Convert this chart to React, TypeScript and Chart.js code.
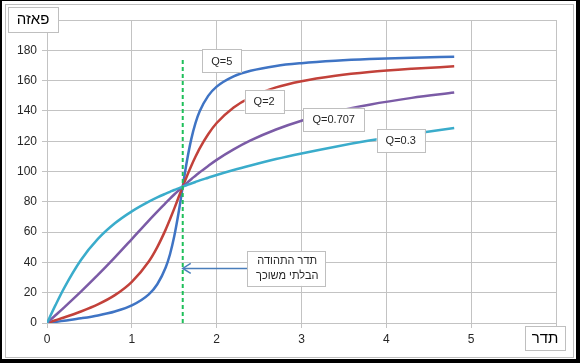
import { useEffect, useRef } from 'react';
import { Chart, registerables } from 'chart.js';

Chart.register(...registerables);

// Frequency samples (x axis, "תדר")
const frequency = [0, 0.1, 0.2, 0.4, 0.6, 0.8, 1.0, 1.2, 1.3, 1.4, 1.45, 1.5, 1.55, 1.6, 1.65, 1.7, 1.75, 1.8, 1.9, 2.0, 2.2, 2.4, 2.7, 3.0, 3.4, 3.8, 4.3, 4.8];

// Phase (degrees) read for each Q
const phaseQ5 = [0, 0.7, 1.5, 3.1, 5.0, 7.6, 11.6, 18.9, 25.6, 36.8, 45.4, 57.2, 72.4, 90, 107.1, 121.2, 131.9, 139.7, 149.9, 156.0, 162.8, 166.5, 169.7, 171.5, 173.1, 174.2, 175.1, 175.7];
const phaseQ2 = [0, 1.8, 3.6, 7.6, 12.3, 18.4, 27.2, 40.6, 50.1, 61.8, 68.5, 75.5, 82.8, 90, 97.0, 103.6, 109.7, 115.3, 124.6, 132.0, 142.3, 149.0, 155.5, 159.6, 163.2, 165.7, 167.8, 169.4];
const phaseQ0707 = [0, 5.1, 10.2, 20.7, 31.7, 43.3, 55.4, 67.6, 73.5, 79.3, 82.1, 84.8, 87.4, 90, 92.5, 94.9, 97.2, 99.5, 103.7, 107.7, 114.6, 120.5, 127.7, 133.5, 139.5, 144.1, 148.6, 152.1];
const phaseQ03 = [0, 11.8, 22.9, 41.6, 55.5, 65.8, 73.7, 80.1, 82.9, 85.4, 86.6, 87.8, 88.9, 90, 91.1, 92.1, 93.1, 94.1, 95.9, 97.7, 101.0, 104.0, 108.2, 111.9, 116.4, 120.4, 124.8, 128.7];

// Undamped resonance marker
const resonanceFreq = 1.6;
const resonanceLineTop = 174;

// Axis ticks
const xTicks = [0, 1, 2, 3, 4, 5, 6];
const yTicks = [0, 20, 40, 60, 80, 100, 120, 140, 160, 180, 200];

// Series labels (boxes) and their anchor (data coordinates)
const seriesLabels = ['Q=5', 'Q=2', 'Q=0.707', 'Q=0.3'];
const seriesLabelX = [2.06, 2.56, 3.38, 4.17];
const seriesLabelY = [173, 146.5, 134.5, 120.5];

// Annotation
const annotationLines = ['תדר התהודה', 'הבלתי משוכך'];
const annotationBoxX = [2.36, 3.28];
const annotationBoxY = [47.5, 24.5];
const annotationArrowTip = [1.6, 36];

const yTitle = 'פאזה';
const xTitle = 'תדר';

const COLORS = {
  q5: '#3f74c4',
  q2: '#c2413a',
  q0707: '#7b5ba6',
  q03: '#3aaccb',
  green: '#1fbf5a',
  grid: '#c3c3c3',
  text: '#262626',
  box: '#bfbfbf',
  arrow: '#4a7ebb',
};

const HEB = '"Liberation Sans", "DejaVu Sans", Arial, sans-serif';

function toXY(ys: number[]) {
  return frequency.map((x, i) => ({ x, y: ys[i] }));
}

function box(ctx: CanvasRenderingContext2D, x: number, y: number, w: number, h: number) {
  ctx.fillStyle = '#ffffff';
  ctx.fillRect(x, y, w, h);
  ctx.strokeStyle = COLORS.box;
  ctx.lineWidth = 1;
  ctx.strokeRect(Math.round(x) + 0.5, Math.round(y) + 0.5, Math.round(w), Math.round(h));
}

const decorPlugin = {
  id: 'decor',
  beforeDraw(chart: any) {
    const { ctx, width, height } = chart;
    ctx.save();
    ctx.fillStyle = '#000000';
    ctx.fillRect(0, 0, width, height);
    ctx.fillStyle = '#ffffff';
    ctx.fillRect(2, 1, width - 6, height - 5);
    ctx.strokeStyle = COLORS.box;
    ctx.lineWidth = 1;
    ctx.strokeRect(5.5, 4.5, width - 12, height - 10);
    ctx.restore();
  },
  afterDraw(chart: any) {
    const { ctx, scales } = chart;
    const xs = scales.x;
    const ys = scales.y;
    ctx.save();

    // axis titles
    ctx.font = `15px ${HEB}`;
    ctx.textAlign = 'center';
    ctx.textBaseline = 'middle';
    box(ctx, 8, 7, 50, 25);
    ctx.fillStyle = '#000';
    ctx.fillText(yTitle, 33, 20);

    box(ctx, 525, 326, 40, 24);
    ctx.fillStyle = '#000';
    ctx.fillText(xTitle, 545, 339);

    // series labels
    ctx.font = `11px ${HEB}`;
    seriesLabels.forEach((t, i) => {
      const cx = xs.getPixelForValue(seriesLabelX[i]);
      const cy = ys.getPixelForValue(seriesLabelY[i]);
      const w = ctx.measureText(t).width + 18;
      const h = 23;
      box(ctx, cx - w / 2, cy - h / 2, w, h);
      ctx.fillStyle = COLORS.text;
      ctx.fillText(t, cx, cy + 1);
    });

    // annotation arrow
    const bx0 = xs.getPixelForValue(annotationBoxX[0]);
    const bx1 = xs.getPixelForValue(annotationBoxX[1]);
    const by0 = ys.getPixelForValue(annotationBoxY[0]);
    const by1 = ys.getPixelForValue(annotationBoxY[1]);
    const tipX = xs.getPixelForValue(annotationArrowTip[0]);
    const tipY = ys.getPixelForValue(annotationArrowTip[1]);
    const startY = (by0 + by1) / 2;
    ctx.strokeStyle = COLORS.arrow;
    ctx.lineWidth = 1.5;
    ctx.beginPath();
    ctx.moveTo(bx0, startY);
    ctx.lineTo(tipX, tipY);
    ctx.stroke();
    ctx.beginPath();
    ctx.moveTo(tipX + 8, tipY - 5);
    ctx.lineTo(tipX, tipY);
    ctx.lineTo(tipX + 8, tipY + 5);
    ctx.stroke();

    box(ctx, bx0, by0, bx1 - bx0, by1 - by0);
    ctx.fillStyle = COLORS.text;
    ctx.font = `11px ${HEB}`;
    const mid = (bx0 + bx1) / 2 + 1;
    ctx.fillText(annotationLines[0], mid, startY - 7);
    ctx.fillText(annotationLines[1], mid, startY + 8);

    ctx.restore();
  },
};

export default function App() {
  const ref = useRef<HTMLCanvasElement>(null);

  useEffect(() => {
    document.body.style.margin = '0';
    const canvas = ref.current!;
    const lineDs = (label: string, data: number[], color: string, order: number) => ({
      label,
      data: toXY(data),
      borderColor: color,
      backgroundColor: color,
      borderWidth: 2.5,
      pointRadius: 0,
      fill: false,
      showLine: true,
      cubicInterpolationMode: 'monotone' as const,
      order,
    });

    const chart = new Chart(canvas, {
      type: 'scatter',
      data: {
        datasets: [
          {
            label: 'resonance',
            data: [
              { x: resonanceFreq, y: 0 },
              { x: resonanceFreq, y: resonanceLineTop },
            ],
            borderColor: COLORS.green,
            borderWidth: 2,
            borderDash: [4, 3],
            pointRadius: 0,
            showLine: true,
            order: 0,
          } as any,
          lineDs('Q=0.3', phaseQ03, COLORS.q03, 1),
          lineDs('Q=0.707', phaseQ0707, COLORS.q0707, 2),
          lineDs('Q=2', phaseQ2, COLORS.q2, 3),
          lineDs('Q=5', phaseQ5, COLORS.q5, 4),
        ],
      },
      options: {
        responsive: false,
        animation: false,
        devicePixelRatio: 1,
        layout: { padding: { left: 7, right: 24, top: 20, bottom: 10 } },
        plugins: {
          legend: { display: false },
          tooltip: { enabled: false },
        },
        scales: {
          x: {
            type: 'linear',
            min: 0,
            max: 6,
            afterBuildTicks: (s: any) => {
              s.ticks = xTicks.map((v) => ({ value: v }));
            },
            afterFit: (s: any) => {
              s.height = 30;
            },
            ticks: {
              padding: 4,
              color: COLORS.text,
              font: { family: HEB, size: 12 },
              callback: (v: any) => (v === 6 ? '' : String(v)),
            },
            grid: { color: COLORS.grid, tickLength: 5, lineWidth: 1 },
            border: { color: COLORS.grid },
          },
          y: {
            type: 'linear',
            min: 0,
            max: 200,
            afterBuildTicks: (s: any) => {
              s.ticks = yTicks.map((v) => ({ value: v }));
            },
            afterFit: (s: any) => {
              s.width = 40;
            },
            ticks: {
              padding: 5,
              color: COLORS.text,
              font: { family: HEB, size: 12 },
              callback: (v: any) => (v === 200 ? '' : String(v)),
            },
            grid: { color: COLORS.grid, tickLength: 5, lineWidth: 1 },
            border: { color: COLORS.grid },
          },
        },
      },
      plugins: [decorPlugin],
    });
    return () => chart.destroy();
  }, []);

  return (
    <div style={{ width: 580, height: 363 }}>
      <canvas ref={ref} width={580} height={363} style={{ display: 'block', width: 580, height: 363 }} />
    </div>
  );
}
